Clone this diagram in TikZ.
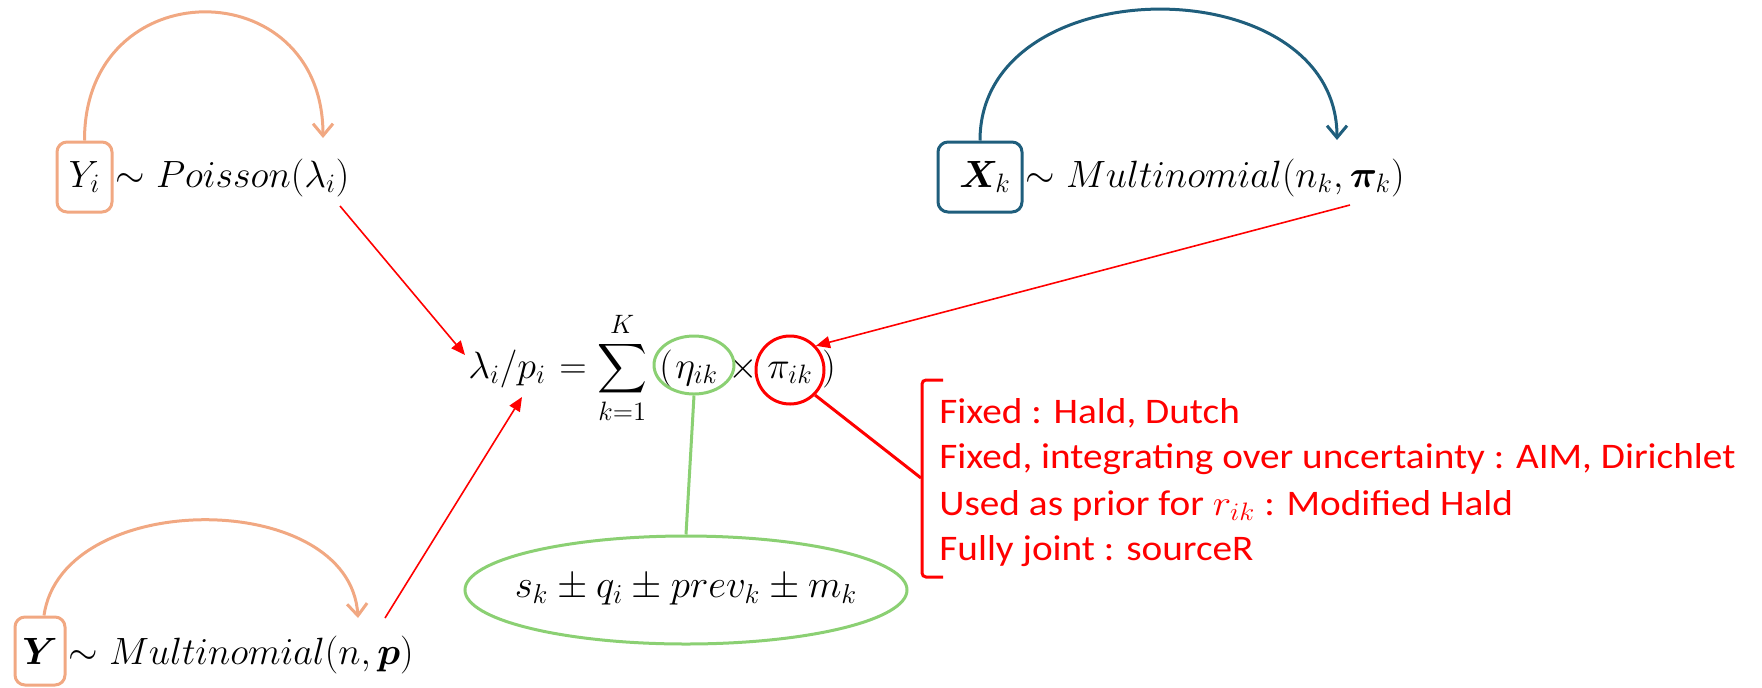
\RequirePackage{fix-cm}
\documentclass[tikz,border=0pt]{standalone}
\usepackage{amsmath}
\usepackage{bm}
\usepackage{fontspec}
\newfontfamily\carlito{Carlito}
\usetikzlibrary{arrows.meta,shapes.geometric}

\definecolor{peach}{RGB}{241,168,130}
\definecolor{mnblue}{RGB}{31,94,124}
\definecolor{lgreen}{RGB}{139,208,115}
\definecolor{pred}{RGB}{255,0,0}

% list entries are set slightly wide
\newcommand\listline[1]{\scalebox{1.09}[1]{#1}}

\tikzset{
  mathtxt/.style={inner sep=0pt, font=\fontsize{19}{23}\selectfont},
  listtxt/.style={inner sep=0pt, anchor=base west, text=pred, font=\carlito\fontsize{18}{23}\selectfont},
  varbox/.style={draw=#1, line width=1.5pt, rounded corners=5pt, inner sep=0pt, font=\fontsize{19}{23}\selectfont},
  loop arc/.style={draw=#1, line width=1.5pt, -{Straight Barb[length=6pt,width=10pt,line width=1.5pt]}},
  feed/.style={draw=pred, line width=0.8pt, -{Triangle[length=7pt,width=6pt]}},
  ring/.style={line width=1.5pt, inner sep=0pt},
}

\begin{document}
\begin{tikzpicture}[x=0.5pt, y=-0.5pt]
\useasboundingbox (0,0) rectangle (1762,687);

% --- Poisson count model (top left)
\node[varbox=peach, minimum width=27.5pt, minimum height=35pt] (yi) at (84.5,177) {$Y_i$};
\node[mathtxt, anchor=base west] (pois) at ([xshift=1pt]yi.base east) {$\sim Poisson(\lambda_i)$};
\coordinate (poisend) at (323,138);
\draw[loop arc=peach] (yi.north) .. controls (84,-30) and (323,-30) .. (poisend);

% --- multinomial over sources (top right)
\node[varbox=mnblue, minimum width=42pt, minimum height=35pt] (xk) at (980,177) {$\hphantom{.}\bm{X}_k$};
\node[mathtxt, anchor=base west] (multk) at ([xshift=1pt]xk.base east) {$\sim Multinomial(n_k,\bm{\pi}_k)$};
\coordinate (multkend) at (1337,140);
\draw[loop arc=mnblue] (xk.north) .. controls (980,-34) and (1337,-34) .. (multkend);

% --- multinomial over cases (bottom left)
\node[varbox=peach, minimum width=25pt, minimum height=34pt] (yy) at (40,651) {$\bm{Y}$};
\node[mathtxt, anchor=base west] (multy) at ([xshift=1pt]yy.base east) {$\sim Multinomial(n,\bm{p})$};
\coordinate (multyend) at (358,618);
\draw[loop arc=peach] ([xshift=2pt]yy.north) .. controls (62,488) and (350,488) .. (multyend);

% --- central attribution equation
\node[mathtxt, anchor=base west] (lam) at (468,378) {$\lambda_i/p_i$};
\node[mathtxt, anchor=base west] (sum) at ([xshift=1pt]lam.base east) {${}=\displaystyle\sum_{k=1}^{K}$};
\node[mathtxt, anchor=base] (lpar) at (666,378) {$($};
\node[mathtxt, anchor=base west] (eta) at (675,378) {$\eta_{ik}$};
\node[mathtxt, anchor=base] (times) at (743,378) {$\times$};
\node[mathtxt, anchor=base] (pik) at (790,378) {$\pi_{ik}$};
\node[mathtxt, anchor=base] (rpar) at (829,378) {$)$};

\node[ring, draw=lgreen, ellipse, minimum width=40pt, minimum height=29pt] (etac) at (694,365) {};
\node[ring, draw=pred, circle, minimum size=34pt] (picirc) at (790,370) {};

% --- source-specific effects
\node[ring, draw=lgreen, ellipse, minimum width=221pt, minimum height=54pt] (src) at (686,590) {};
\node[mathtxt, font=\fontsize{19.5}{23}\selectfont] (srctxt) at (src.center) {$s_k \pm q_i \pm prev_k \pm m_k$};
\draw[lgreen, line width=1.5pt] (etac.south) -- (src.north);

% --- data feeding the equation
\coordinate (poisout) at (340,206);
\coordinate (lamin) at (465,355);
\coordinate (multyout) at (385,618);
\coordinate (pin) at (522,397);
\coordinate (multkout) at (1350,205);
\draw[feed] (poisout) -- (lamin);
\draw[feed] (multyout) -- (pin);
\draw[feed] (multkout) -- (picirc.43);

% --- treatment of the source proportions
\node[listtxt] (l1) at (939,423) {\listline{Fixed : Hald, Dutch}};
\node[listtxt] (l2) at (939,468) {\listline{Fixed, integrating over uncertainty : AIM, Dirichlet}};
\node[listtxt] (l3) at (939,515) {\listline{Used as prior for $r_{ik}$ : Modified Hald}};
\node[listtxt] (l4) at (939,560) {\listline{Fully joint : sourceR}};
\draw[pred, line width=1.5pt, rounded corners=2pt] (943,380) -- (922,380) -- (922,577) -- (943,577);
\coordinate (brk) at (921,478);
\draw[pred, line width=1.5pt] (picirc.-45) -- (brk);
\end{tikzpicture}
\end{document}
